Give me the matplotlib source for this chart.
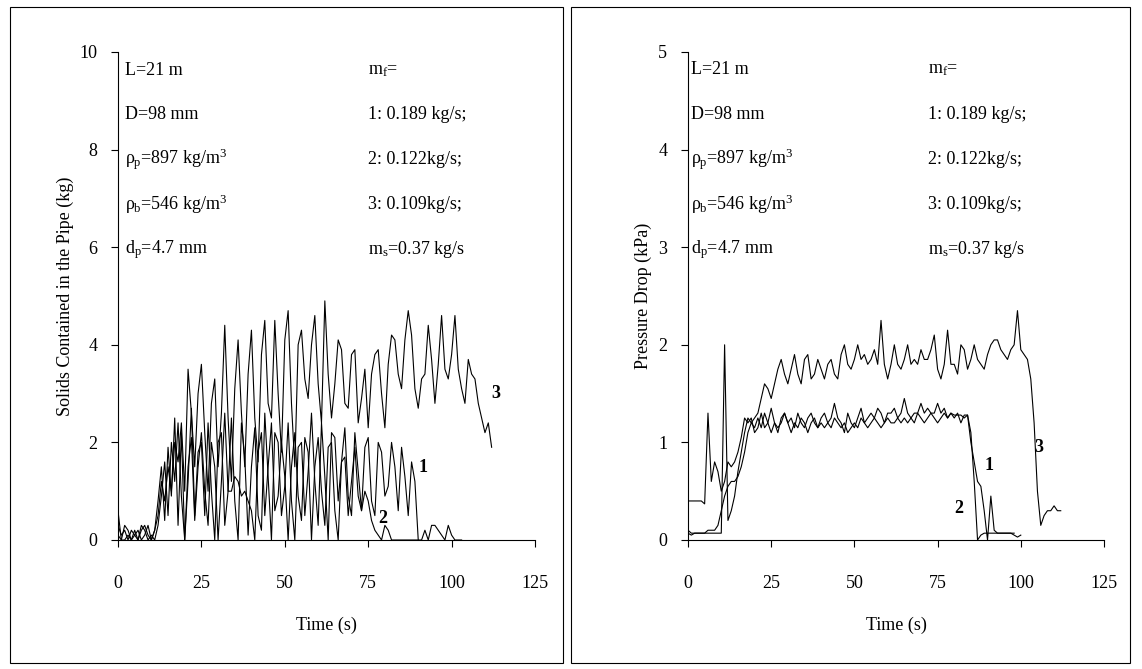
import matplotlib.pyplot as plt
from matplotlib.patches import Rectangle
import numpy as np

plt.rcParams['font.family'] = ['Liberation Serif', 'DejaVu Serif']
plt.rcParams['mathtext.fontset'] = 'custom'
plt.rcParams['mathtext.rm'] = 'Liberation Serif'
plt.rcParams['mathtext.it'] = 'Liberation Serif'

# left panel: solids in pipe (kg), 1 s sampling
solids_3 = [0.3, 0.1, 0.2, 0, 0.2, 0.1, 0, 0.2, 0.3, 0.1, 0, 0.2, 0.5,
            1.2, 0.8, 1.5, 1.0, 2.0, 1.6, 2.4, 1.0,
            3.5, 2.6, 1.5, 3.0, 3.6, 2.2, 1.0, 2.8, 3.3, 1.5,
            2.6, 4.4, 2.5, 1.2, 3.1, 4.1, 2.6, 1.5, 3.4, 4.3,
            2.5, 1.6, 3.8, 4.5, 2.8, 2.5, 4.5, 3.0, 1.8, 4.1,
            4.7, 2.8, 1.5, 4.0, 4.3, 3.3, 2.9, 4.0, 4.6, 3.2,
            2.4, 4.9, 3.4, 2.5, 3.2, 4.1, 3.9, 2.8, 2.7, 3.8,
            3.9, 2.4, 2.9, 3.5, 2.3, 3.4, 3.8, 3.9, 3.0, 2.3,
            3.6, 4.2, 4.1, 3.4, 3.1, 4.1, 4.7, 4.2, 3.1, 2.7,
            3.3, 3.4, 4.4, 3.7, 2.8, 3.6, 4.6, 3.5, 3.3, 3.8,
            4.6, 3.5, 3.1, 2.8, 3.7, 3.4, 3.3, 2.8, 2.5, 2.2, 2.4, 1.9]
solids_1 = [0.1, 0, 0.3, 0.2, 0, 0.1, 0.2, 0, 0.1, 0.3, 0, 0.2, 0.8,
            1.5, 0.4, 1.9, 0.9, 2.5, 0.3, 2.2, 0,
            1.2, 2.7, 0.5, 1.8, 2.0, 0.5, 2.4, 1.0, 0, 2.0,
            2.2, 0.3, 1.0, 2.5, 0.8, 0, 2.4, 1.7, 0.1, 1.5,
            2.3, 0.5, 0.2, 2.6, 1.3, 0, 2.2, 2.0, 0.5, 1.1,
            2.4, 0.8, 0, 1.9, 2.0, 0.5, 1.4, 2.6, 1.2, 0.3,
            2.4, 1.3, 0, 2.2, 2.1, 0.8, 1.6, 2.3, 0.9, 0.5,
            2.2, 1.4, 0.6, 1.9, 2.1, 0.8, 0.5, 2.0, 1.8, 0.9,
            1.1, 2.0, 1.5, 0.6, 1.9, 1.3, 0.5, 1.6, 1.2, 0]
solids_2 = [0.6, 0, 0, 0.1, 0, 0.2, 0, 0.3, 0.2, 0, 0.1, 0, 0.3,
            0.9, 1.6, 0.5, 2.0, 1.2, 2.4, 0.9, 0,
            1.5, 2.1, 0.4, 1.5, 2.2, 1.0, 0.3, 2.0, 1.5, 0,
            1.2, 2.6, 1.0, 1.0, 1.3, 1.2, 0.9, 1.0, 0.8, 0.6,
            0, 1.8, 2.2, 0.5, 1.5, 2.4, 0.6, 0.9, 2.0, 1.3,
            0, 1.5, 2.2, 0.9, 0.4, 2.1, 1.8, 0, 1.5, 2.1,
            1.0, 0.3, 1.9, 2.0, 0.6, 0, 1.6, 1.7, 0.5, 1.2,
            1.9, 0.9, 0.6, 1.0, 0.8, 0.4, 0.2, 0.1, 0, 0.3,
            0.2, 0, 0, 0, 0, 0, 0, 0, 0, 0,
            0, 0.2, 0, 0.3, 0.3, 0.2, 0.1, 0, 0.3, 0.1, 0, 0, 0]

# right panel: pressure drop (kPa), 1 s sampling
dp_3 = [0.1, 0.07, 0.07, 0.07, 0.07, 0.07, 0.1, 0.1, 0.1, 0.15, 0.3, 0.45, 0.55,
        0.6, 0.6, 0.65, 0.75, 0.9, 1.1, 1.2, 1.25, 1.3, 1.45, 1.6, 1.55, 1.45, 1.6,
        1.75, 1.85, 1.7, 1.6, 1.75, 1.9, 1.7, 1.6, 1.85, 1.9, 1.65, 1.7, 1.85,
        1.75, 1.65, 1.8, 1.85, 1.7, 1.65, 1.9, 2.0, 1.8, 1.75, 1.85, 2.0, 1.85,
        1.9, 1.8, 1.85, 1.95, 1.8, 2.25, 1.8, 1.65, 1.8, 2.0, 1.8, 1.75, 1.85,
        2.0, 1.8, 1.85, 1.8, 1.95, 1.85, 1.85, 1.95, 2.1, 1.75, 1.65, 1.8, 2.15,
        1.8, 1.8, 1.7, 2.0, 1.95, 1.75, 1.85, 2.0, 1.85, 1.8, 1.75, 1.9, 2.0,
        2.05, 2.05, 1.95, 1.9, 1.85, 1.95, 2.0, 2.35, 1.95, 1.9, 1.85, 1.65, 1.2,
        0.5, 0.15, 0.25, 0.3, 0.3, 0.35, 0.3, 0.3]
dp_1 = [0.4, 0.4, 0.4, 0.4, 0.4, 0.37, 1.3, 0.6, 0.8, 0.7, 0.5, 0.6, 0.8,
        0.75, 0.8, 0.9, 1.05, 1.25, 1.2, 1.25, 1.1, 1.15, 1.3, 1.15, 1.2, 1.35,
        1.2, 1.1, 1.25, 1.3, 1.2, 1.25, 1.15, 1.3, 1.2, 1.15, 1.25, 1.3, 1.2,
        1.15, 1.25, 1.3, 1.2, 1.25, 1.4, 1.25, 1.2, 1.1, 1.3, 1.2, 1.15, 1.25,
        1.35, 1.2, 1.25, 1.3, 1.25, 1.35, 1.3, 1.2, 1.3, 1.3, 1.35, 1.25, 1.3,
        1.45, 1.3, 1.25, 1.3, 1.3, 1.4, 1.3, 1.35, 1.3, 1.3, 1.4, 1.3, 1.35,
        1.25, 1.3, 1.28, 1.28, 1.28, 1.25, 1.28, 1.0, 0.8, 0.6, 0.55, 0.3,
        0.0, 0.45, 0.1, 0.07, 0.07, 0.07, 0.07, 0.07, 0.07]
dp_2 = [0.07, 0.05, 0.07, 0.07, 0.07, 0.07, 0.07, 0.07, 0.07, 0.07, 0.07, 2.0,
        0.2, 0.3, 0.45, 0.7, 0.9, 1.1, 1.25, 1.2, 1.15, 1.25, 1.15, 1.3, 1.2,
        1.1, 1.2, 1.15, 1.2, 1.3, 1.2, 1.1, 1.2, 1.15, 1.25, 1.2, 1.1, 1.2,
        1.25, 1.15, 1.2, 1.15, 1.2, 1.15, 1.25, 1.2, 1.15, 1.2, 1.1, 1.15, 1.2,
        1.15, 1.25, 1.2, 1.15, 1.2, 1.25, 1.2, 1.15, 1.2, 1.25, 1.2, 1.2, 1.25,
        1.2, 1.25, 1.2, 1.25, 1.2, 1.3, 1.25, 1.2, 1.25, 1.3, 1.25, 1.2, 1.25,
        1.3, 1.25, 1.3, 1.25, 1.3, 1.2, 1.28, 1.28, 1.1, 0.6, 0.0, 0.05, 0.07,
        0.07, 0.07, 0.07, 0.07, 0.07, 0.07, 0.07, 0.07, 0.05, 0.03, 0.05]

info_left = ["L=21 m", "D=98 mm", r"$\rho_p$=897 kg/m$^3$", r"$\rho_b$=546 kg/m$^3$", r"d$_p$=4.7 mm"]
info_right = [r"m$_f$=", "1: 0.189 kg/s;", "2: 0.122kg/s;", "3: 0.109kg/s;", r"m$_s$=0.37 kg/s"]

W, H = 1142, 669
fig = plt.figure(figsize=(W / 100, H / 100), dpi=100)
for x0, x1 in [(10, 563), (571, 1130)]:
    fig.patches.append(Rectangle((x0 / W, 6 / H), (x1 - x0) / W, 656 / H,
                                 transform=fig.transFigure, fill=False, lw=0.8, ec='black'))

ax1 = fig.add_axes([118 / W, 129 / H, 417 / W, 488 / H])
ax2 = fig.add_axes([688 / W, 129 / H, 416 / W, 488 / H])

for ax, series, ymax, ylabel in [
        (ax1, [solids_1, solids_2, solids_3], 10, "Solids Contained in the Pipe (kg)"),
        (ax2, [dp_1, dp_2, dp_3], 5, "Pressure Drop (kPa)")]:
    for s in series:
        ax.plot(np.arange(len(s)), s, color='black', lw=0.8)
    ax.set_xlim(0, 125)
    ax.set_ylim(0, ymax)
    ax.set_xticks([0, 25, 50, 75, 100, 125])
    ax.spines['top'].set_visible(False)
    ax.spines['right'].set_visible(False)
    ax.tick_params(direction='out', labelsize=13, length=5, pad=10)
    ax.tick_params(axis='x', pad=20)
    ax.set_xlabel("Time (s)", fontsize=13, labelpad=18)
    ax.set_ylabel(ylabel, fontsize=13)
    ax.set_facecolor('none')

ax1.set_yticks([0, 2, 4, 6, 8, 10])
ax2.set_yticks([0, 1, 2, 3, 4, 5])

for i, t in enumerate(info_left):
    ax1.text(2, 9.63 - i * 0.92, t, fontsize=13, va='center')
    ax2.text(1, 4.82 - i * 0.46, t, fontsize=13, va='center')
for i, t in enumerate(info_right):
    ax1.text(75, 9.63 - i * 0.92, t, fontsize=13, va='center')
    ax2.text(72, 4.82 - i * 0.46, t, fontsize=13, va='center')

ax1.text(112, 2.9, "3", fontsize=13, fontweight='bold')
ax1.text(90, 1.4, "1", fontsize=13, fontweight='bold')
ax1.text(78, 0.35, "2", fontsize=13, fontweight='bold')
ax2.text(104, 0.9, "3", fontsize=13, fontweight='bold')
ax2.text(89, 0.72, "1", fontsize=13, fontweight='bold')
ax2.text(80, 0.28, "2", fontsize=13, fontweight='bold')

fig.savefig("out.png", dpi=100)
